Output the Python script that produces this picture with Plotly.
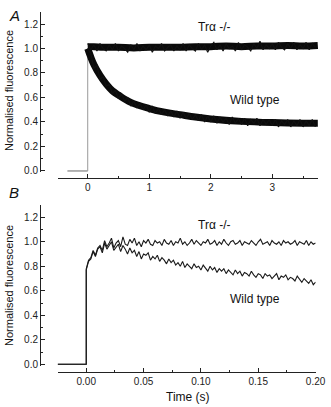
import plotly.graph_objects as go

# ---------------- Panel A data ----------------
a_base_t = [-0.33, 0.0]
a_base_y = [0.0, 0.0]
# smoothed mean traces
a_tr_t = [0, 0.1, 0.25, 0.5, 0.75, 1.0, 1.25, 1.5, 1.75, 2.0, 2.25, 2.5, 2.75, 3.0, 3.25, 3.5, 3.74]
a_tr_y = [1.015, 1.015, 1.01, 1.01, 1.005, 1.01, 1.01, 1.01, 1.015, 1.015, 1.02, 1.015, 1.02, 1.02, 1.025, 1.02, 1.025]
a_wt_t = [0, 0.05, 0.1, 0.2, 0.3, 0.4, 0.5, 0.7, 1.0, 1.25, 1.5, 1.75, 2.0, 2.5, 3.0, 3.5, 3.74]
a_wt_y = [1.0, 0.93, 0.87, 0.78, 0.71, 0.655, 0.62, 0.56, 0.51, 0.48, 0.46, 0.44, 0.425, 0.405, 0.395, 0.39, 0.39]
# noisy samples (every 0.05 s)
a_step = 0.05
a_tr_noisy = [1.04, 0.99, 1.03, 0.98, 1.04, 1.00, 0.98, 1.03, 0.99, 1.04,
              0.98, 1.02, 1.00, 0.97, 1.03, 0.99, 1.04, 0.98, 1.02, 0.99,
              1.03, 0.97, 1.02, 1.00, 1.04, 0.98, 1.01, 1.03, 0.98, 1.02,
              0.99, 1.04, 0.98, 1.03, 1.00, 0.98, 1.04, 0.99, 1.03, 0.97,
              1.02, 1.05, 0.99, 1.03, 0.98, 1.04, 1.00, 1.02, 0.98, 1.05,
              0.99, 1.03, 1.01, 0.98, 1.04, 1.00, 1.06, 0.99, 1.03, 1.00,
              1.04, 0.99, 1.05, 1.01, 0.99, 1.04, 1.00, 1.05, 0.99, 1.03,
              1.00, 1.05, 0.99, 1.04, 1.01]
a_wt_noisy = [1.00, 0.96, 0.84, 0.86, 0.75, 0.77, 0.69, 0.71, 0.63, 0.66,
              0.59, 0.63, 0.57, 0.60, 0.53, 0.57, 0.52, 0.55, 0.50, 0.54,
              0.48, 0.53, 0.47, 0.51, 0.46, 0.50, 0.45, 0.49, 0.44, 0.49,
              0.43, 0.48, 0.43, 0.47, 0.42, 0.46, 0.41, 0.46, 0.40, 0.45,
              0.40, 0.45, 0.39, 0.44, 0.40, 0.43, 0.38, 0.44, 0.39, 0.43,
              0.38, 0.43, 0.37, 0.42, 0.39, 0.43, 0.37, 0.42, 0.38, 0.42,
              0.37, 0.42, 0.36, 0.41, 0.38, 0.42, 0.36, 0.41, 0.37, 0.42,
              0.36, 0.41, 0.37, 0.42, 0.36]
a_noisy_t = [round(i * a_step, 3) for i in range(len(a_tr_noisy))]

# ---------------- Panel B data ----------------
b_step = 0.002
b_base_t = [-0.025, 0.0]
b_base_y = [0.0, 0.0]
b_tr_y = [0.78, 0.85, 0.87, 0.93, 0.89, 0.95, 0.97, 0.93, 1.01, 0.96,
          0.99, 1.03, 0.95, 0.99, 1.01, 0.96, 1.04, 0.98, 0.97, 1.02,
          0.99, 1.03, 0.97, 1.00, 0.96, 1.01, 0.99, 1.02, 0.98, 0.97,
          1.01, 0.99, 1.00, 0.97, 1.02, 0.99, 0.98, 1.01, 0.97, 1.00,
          0.99, 1.03, 0.98, 1.00, 0.97, 0.99, 1.02, 0.98, 1.01, 0.99,
          0.97, 1.00, 0.99, 1.02, 0.98, 0.99, 1.01, 0.97, 1.00, 0.98,
          1.02, 0.99, 0.97, 1.00, 1.01, 0.98, 0.99, 1.01, 0.97, 1.00,
          0.99, 0.98, 1.01, 0.99, 0.97, 1.00, 1.02, 0.98, 0.99, 1.00,
          0.97, 1.01, 0.99, 0.98, 1.00, 0.97, 1.01, 0.99, 1.00, 0.98,
          0.99, 1.01, 0.97, 1.00, 0.99, 0.98, 1.01, 0.97, 1.00, 0.98, 0.99]
b_wt_y = [0.77, 0.84, 0.86, 0.92, 0.88, 0.94, 0.96, 0.91, 0.99, 0.94,
          0.97, 1.00, 0.93, 0.96, 0.98, 0.92, 0.97, 0.94, 0.90, 0.95,
          0.91, 0.93, 0.88, 0.92, 0.86, 0.90, 0.89, 0.91, 0.85, 0.88,
          0.86, 0.89, 0.84, 0.87, 0.85, 0.82, 0.86, 0.83, 0.85, 0.81,
          0.83, 0.80, 0.84, 0.79, 0.82, 0.80, 0.78, 0.82, 0.79, 0.80,
          0.77, 0.81, 0.78, 0.76, 0.80, 0.77, 0.79, 0.75, 0.78, 0.76,
          0.78, 0.74, 0.77, 0.75, 0.73, 0.77, 0.74, 0.76, 0.72, 0.75,
          0.74, 0.72, 0.76, 0.73, 0.71, 0.74, 0.73, 0.70, 0.74, 0.72,
          0.73, 0.70, 0.72, 0.74, 0.69, 0.72, 0.71, 0.73, 0.69, 0.71,
          0.70, 0.68, 0.72, 0.69, 0.67, 0.70, 0.68, 0.66, 0.69, 0.65, 0.67]
b_t = [round(i * b_step, 4) for i in range(len(b_tr_y))]

A_XRANGE = [-0.483, 3.743]
B_XRANGE = [-0.0249, 0.2001]
Y_RANGE = [-0.01, 1.3]

W, H = 331, 407
FONT = "Liberation Sans, Arial, sans-serif"
AX = "#222222"

fig = go.Figure()

# Panel A
fig.add_trace(go.Scatter(x=a_base_t, y=a_base_y, mode="lines", line=dict(color="#666", width=1),
                         xaxis="x", yaxis="y", showlegend=False, hoverinfo="skip"))
fig.add_trace(go.Scatter(x=[0, 0], y=[0, a_wt_y[0]], mode="lines", line=dict(color="#999", width=1),
                         xaxis="x", yaxis="y", showlegend=False, hoverinfo="skip"))
for tt, yy in ((a_tr_t, a_tr_y), (a_wt_t, a_wt_y)):
    fig.add_trace(go.Scatter(x=tt, y=yy, mode="lines", line=dict(color="#0a0a0a", width=7, shape="spline"),
                             xaxis="x", yaxis="y", showlegend=False, hoverinfo="skip"))
for yy in (a_tr_noisy, a_wt_noisy):
    fig.add_trace(go.Scatter(x=a_noisy_t, y=yy, mode="lines", line=dict(color="#111", width=1.2),
                             xaxis="x", yaxis="y", showlegend=False, hoverinfo="skip"))

# Panel B
for yy in (b_wt_y, b_tr_y):
    fig.add_trace(go.Scatter(x=b_base_t + b_t, y=b_base_y + yy, mode="lines",
                             line=dict(color="#1a1a1a", width=1.1),
                             xaxis="x2", yaxis="y2", showlegend=False, hoverinfo="skip"))

def px_x(p):
    return p / W

def px_y(p):
    return 1 - p / H

common = dict(showgrid=False, zeroline=False, showline=True, linecolor=AX, linewidth=1,
              ticks="inside", ticklen=4, tickcolor=AX, tickwidth=1, automargin=False,
              tickfont=dict(family=FONT, size=10, color="#222"))

def minor(d):
    return dict(dtick=d, tick0=0, ticks="inside", ticklen=2, tickcolor=AX, showgrid=False)

fig.update_layout(
    width=W, height=H,
    margin=dict(l=0, r=0, t=0, b=0, autoexpand=False),
    paper_bgcolor="white", plot_bgcolor="white",
    hovermode=False,
    xaxis=dict(domain=[px_x(58), px_x(318)], range=A_XRANGE, anchor="free", position=px_y(178),
               tick0=0, dtick=1, tickformat="d", minor=minor(0.5), **common),
    yaxis=dict(domain=[px_y(172.2), px_y(11.75)], range=Y_RANGE, anchor="free", position=px_x(40),
               tick0=0, dtick=0.2, tickformat=".1f", minor=minor(0.1), **common),
    xaxis2=dict(domain=[px_x(57.7), px_x(315.7)], range=B_XRANGE, anchor="free", position=px_y(372.3),
                tick0=0, dtick=0.05, tickformat=".2f", minor=minor(0.025), **common),
    yaxis2=dict(domain=[px_y(365.5), px_y(205.05)], range=Y_RANGE, anchor="free", position=px_x(40),
                tick0=0, dtick=0.2, tickformat=".1f", minor=minor(0.1), **common),
)

def ann(text, x, y, size, angle=0, italic=False):
    fig.add_annotation(text=("<i>%s</i>" % text) if italic else text,
                       x=px_x(x), y=px_y(y), xref="paper", yref="paper",
                       showarrow=False, textangle=angle, xanchor="center", yanchor="middle",
                       font=dict(family=FONT, size=size, color="#111"))

ann("A", 14, 15, 15, italic=True)
ann("B", 14, 192, 15, italic=True)
ann("Normalised fluorescence", 9, 91, 11, angle=-90)
ann("Normalised fluorescence", 9, 286, 11, angle=-90)
ann("Time (s)", 188, 397, 12)
ann("Trα -/-", 214, 27, 12)
ann("Wild type", 255, 100, 12)
ann("Trα -/-", 214, 225, 12)
ann("Wild type", 255, 299, 12)

fig.write_html("out.html", config={"displayModeBar": False, "staticPlot": True},
               post_script="document.body.style.margin='0';document.body.style.overflow='hidden';")
